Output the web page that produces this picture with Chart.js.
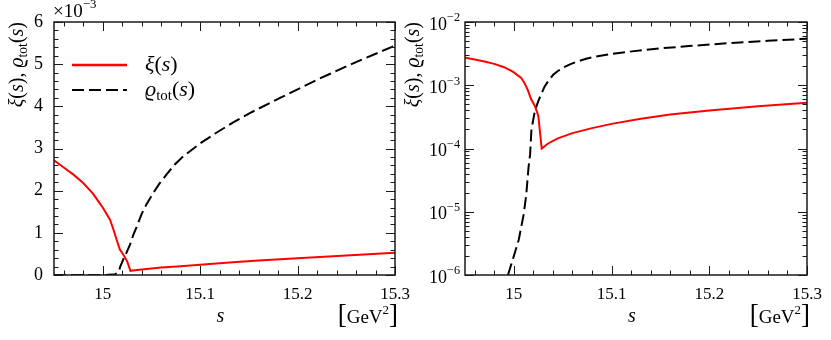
<!DOCTYPE html>
<html><head><meta charset="utf-8">
<script src="https://cdn.jsdelivr.net/npm/chart.js@4.4.0/dist/chart.umd.min.js"></script>
<style>
html,body{margin:0;padding:0;background:#fff;width:831px;height:340px;overflow:hidden;}
canvas{position:absolute;top:0;}
#c1{left:0;}
#c2{left:400px;}
</style></head><body>
<canvas id="c1" width="415" height="340"></canvas>
<canvas id="c2" width="431" height="340"></canvas>
<script>
// ---- data ----
const sXi = [14.95, 14.96, 14.97, 14.98, 14.99, 14.997, 15.0, 15.0075, 15.011, 15.0144, 15.0175, 15.0215, 15.025, 15.0285, 15.035, 15.045, 15.06, 15.08, 15.1, 15.13, 15.16, 15.2, 15.25, 15.3];
const xiValues = [2.72e-3, 2.55e-3, 2.38e-3, 2.18e-3, 1.93e-3, 1.70e-3, 1.60e-3, 1.31e-3, 1.08e-3, 0.83e-3, 0.61e-3, 0.47e-3, 0.33e-3, 0.10e-3, 0.12e-3, 0.145e-3, 0.175e-3, 0.21e-3, 0.245e-3, 0.295e-3, 0.345e-3, 0.40e-3, 0.465e-3, 0.53e-3];
const sRho = [14.95, 14.97, 14.985, 14.994, 15.0, 15.005, 15.01, 15.0126, 15.015, 15.0166, 15.018, 15.0215, 15.0229, 15.025, 15.028, 15.0314, 15.035, 15.04, 15.045, 15.052, 15.058, 15.066, 15.074, 15.083, 15.1, 15.115, 15.134, 15.151, 15.182, 15.22, 15.26, 15.3];
const rhoValues = [0, 0, 0, 1.0e-6, 2.0e-6, 3.6e-6, 9e-6, 1.8e-5, 5e-5, 8e-5, 2.0e-4, 3.9e-4, 4.5e-4, 5.6e-4, 7.2e-4, 9.5e-4, 1.15e-3, 1.45e-3, 1.68e-3, 1.95e-3, 2.16e-3, 2.40e-3, 2.62e-3, 2.82e-3, 3.12e-3, 3.35e-3, 3.62e-3, 3.84e-3, 4.20e-3, 4.63e-3, 5.05e-3, 5.44e-3];

const xTickValues = [15, 15.1, 15.2, 15.3];
const xTickLabels = ['15', '15.1', '15.2', '15.3'];
const yLinTickValues = [0, 0.001, 0.002, 0.003, 0.004, 0.005, 0.006];
const yLinTickLabels = ['0', '1', '2', '3', '4', '5', '6'];
const yLogTickValues = [1e-6, 1e-5, 1e-4, 1e-3, 1e-2];
const yLogTickExponents = ['−6', '−5', '−4', '−3', '−2'];
const legendLabels = ['ξ', 'ϱ'];

const FONT = '"Liberation Serif", "DejaVu Serif", serif';
const RED = '#ff0000';
const INK = '#1a1a1a';

function segFont(seg, size) {
  const sz = (seg.sub || seg.sup) ? size * 0.68 : size;
  return (seg.it ? 'italic ' : '') + sz + 'px ' + FONT;
}
function richWidth(ctx, segs, size) {
  let w = 0;
  for (const s of segs) { ctx.font = segFont(s, size); w += ctx.measureText(s.t).width; }
  return w;
}
function drawRich(ctx, segs, x, y, size) {
  ctx.textBaseline = 'middle'; ctx.textAlign = 'left';
  let cx = x;
  for (const s of segs) {
    ctx.font = segFont(s, size);
    const dy = s.sub ? size * 0.28 : (s.sup ? -size * 0.38 : 0);
    ctx.fillText(s.t, cx, y + dy);
    cx += ctx.measureText(s.t).width;
  }
}
const xiSegs = [{t: legendLabels[0], it: 1}, {t: '('}, {t: 's', it: 1}, {t: ')'}];
const rhoSegs = [{t: legendLabels[1], it: 1}, {t: 'tot', sub: 1}, {t: '('}, {t: 's', it: 1}, {t: ')'}];
const titleSegs = xiSegs.concat([{t: ', '}], rhoSegs);

function line(ctx, x1, y1, x2, y2) { ctx.beginPath(); ctx.moveTo(x1, y1); ctx.lineTo(x2, y2); ctx.stroke(); }

function framePlugin(logY, isLeft) {
  return {
    id: 'frame' + (isLeft ? 'L' : 'R'),
    afterDraw(chart) {
      const {ctx, chartArea: a, scales: {x, y}} = chart;
      ctx.save();
      ctx.strokeStyle = INK; ctx.fillStyle = INK; ctx.lineWidth = 1;
      for (let i = 0; i <= 17; i++) {
        const v = 14.96 + i * 0.02;
        const major = xTickValues.some(t => Math.abs(t - v) < 1e-6);
        const L = major ? 9 : 4.5;
        const px = Math.round(x.getPixelForValue(v)) + 0.5;
        line(ctx, px, a.bottom, px, a.bottom - L);
        line(ctx, px, a.top, px, a.top + L);
      }
      const yt = [];
      if (!logY) {
        for (let i = 0; i <= 30; i++) yt.push([i * 0.0002, i % 5 === 0]);
      } else {
        for (let d = -6; d <= -3; d++) for (let m = 1; m <= 9; m++) yt.push([m * Math.pow(10, d), m === 1]);
        yt.push([1e-2, true]);
      }
      for (const [v, major] of yt) {
        const L = major ? 9 : 4.5;
        const py = Math.round(y.getPixelForValue(v)) + 0.5;
        line(ctx, a.left, py, a.left + L, py);
        line(ctx, a.right, py, a.right - L, py);
      }
      ctx.lineWidth = 1.5;
      ctx.strokeRect(a.left, a.top, a.right - a.left, a.bottom - a.top);

      ctx.fillStyle = '#000';
      if (logY) {
        yLogTickValues.forEach((v, i) => {
          const py = y.getPixelForValue(v);
          const segs = [{t: '10'}, {t: yLogTickExponents[i], sup: 1}];
          const w = richWidth(ctx, segs, 18);
          drawRich(ctx, segs, a.left - 5 - w, py + 3, 18);
        });
      } else {
        drawRich(ctx, [{t: '×10'}, {t: '−3', sup: 1}], a.left - 1, 12, 19);
      }
      const tw = richWidth(ctx, titleSegs, 20);
      ctx.save();
      ctx.translate(isLeft ? 18 : 14, a.top);
      ctx.rotate(-Math.PI / 2);
      drawRich(ctx, titleSegs, -tw, 0, 20);
      ctx.restore();
      const cx = (a.left + a.right) / 2 - 4;
      ctx.font = 'italic 20px ' + FONT; ctx.textAlign = 'center'; ctx.textBaseline = 'middle';
      ctx.fillText('s', cx, 317);
      const unit = [{t: 'GeV'}, {t: '2', sup: 1}];
      const uw = richWidth(ctx, unit, 19);
      ctx.font = '27px ' + FONT;
      const bw = ctx.measureText('[').width;
      const right = a.right + 3;
      const ux = right - bw - uw;
      ctx.textAlign = 'right'; ctx.textBaseline = 'middle';
      ctx.fillText(']', right, 316);
      ctx.textAlign = 'left';
      ctx.fillText('[', ux - bw, 316);
      drawRich(ctx, unit, ux, 318, 19);

      if (!logY) {
        ctx.lineWidth = 2.5;
        ctx.strokeStyle = RED;
        line(ctx, 72, 65, 127, 65);
        ctx.strokeStyle = '#000';
        ctx.lineWidth = 2.2;
        ctx.setLineDash([12, 5]);
        line(ctx, 72, 90, 127, 90);
        ctx.setLineDash([]);
        ctx.fillStyle = '#000';
        drawRich(ctx, xiSegs, 145, 65, 22);
        drawRich(ctx, rhoSegs, 145, 90, 22);
      }
      ctx.restore();
    }
  };
}

function pts(sArr, vArr, logY) {
  return sArr.map((s, i) => ({x: s, y: (logY && vArr[i] <= 0) ? null : vArr[i]}));
}

function makeChart(id, logY, padRight, yWidth) {
  const isLeft = !logY;
  return new Chart(document.getElementById(id), {
    type: 'line',
    data: {
      datasets: [
        {label: 'xi', data: pts(sXi, xiValues, logY), borderColor: RED, borderWidth: 2, pointRadius: 0, tension: 0, fill: false},
        {label: 'rho', data: pts(sRho, rhoValues, logY), borderColor: '#000', borderWidth: 2, borderDash: [12, 5], pointRadius: 0, tension: 0, fill: false, spanGaps: false}
      ]
    },
    options: {
      responsive: false, animation: false, devicePixelRatio: 1,
      layout: {padding: {top: 22, right: padRight, left: 0, bottom: 0}},
      plugins: {legend: {display: false}, tooltip: {enabled: false}},
      scales: {
        x: {
          type: 'linear', min: 14.95, max: 15.3,
          grid: {display: false}, border: {display: false},
          ticks: {
            font: {family: FONT, size: 17}, color: '#000', padding: 1, maxRotation: 0, autoSkip: false,
            callback: (v) => { const i = xTickValues.findIndex(t => Math.abs(t - v) < 1e-9); return i >= 0 ? xTickLabels[i] : ''; }
          },
          afterBuildTicks: (s) => { s.ticks = xTickValues.map(v => ({value: v})); },
          afterFit: (s) => { s.height = 65; s.paddingLeft = 0; s.paddingRight = 0; }
        },
        y: logY ? {
          type: 'logarithmic', min: 1e-6, max: 1e-2,
          grid: {display: false}, border: {display: false},
          ticks: {display: false},
          afterFit: (s) => { s.width = yWidth; s.paddingTop = 0; s.paddingBottom = 0; }
        } : {
          type: 'linear', min: 0, max: 0.006,
          grid: {display: false}, border: {display: false},
          ticks: {
            font: {family: FONT, size: 18}, color: '#000', padding: 3,
            callback: (v) => { const i = yLinTickValues.findIndex(t => Math.abs(t - v) < 1e-12); return i >= 0 ? yLinTickLabels[i] : ''; }
          },
          afterBuildTicks: (s) => { s.ticks = yLinTickValues.map(v => ({value: v})); },
          afterFit: (s) => { s.width = yWidth; s.paddingTop = 0; s.paddingBottom = 0; }
        }
      }
    },
    plugins: [framePlugin(logY, isLeft)]
  });
}

makeChart('c1', false, 20, 54);
makeChart('c2', true, 24, 65);
</script>
</body></html>
